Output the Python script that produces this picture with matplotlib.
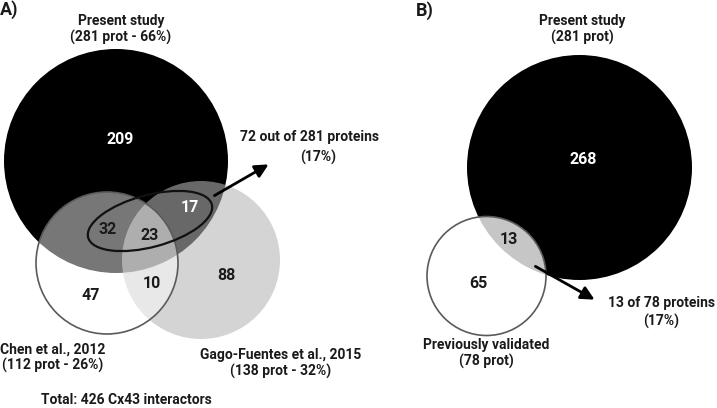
import matplotlib
matplotlib.use("Agg")
import matplotlib.pyplot as plt
from matplotlib.patches import Circle, Ellipse

# Panel A: Cx43 interactors, three studies
a_sets = ["Present study", "Chen et al., 2012", "Gago-Fuentes et al., 2015"]
a_totals = [281, 112, 138]
a_pcts = [66, 26, 32]
# region counts: only present, present&chen, all three, present&gago, chen&gago, only chen, only gago
a_regions = ["P", "PC", "PCG", "PG", "CG", "C", "G"]
a_counts = [209, 32, 23, 17, 10, 47, 88]
a_overlap = 72
a_overlap_pct = 17
a_total = 426

# Panel B: present study vs previously validated
b_sets = ["Present study", "Previously validated"]
b_totals = [281, 78]
b_counts = [268, 13, 65]  # only present, both, only validated
b_overlap_pct = 17

plt.rcParams['font.family'] = ['Roboto', 'DejaVu Sans']
FS = 10
NUM_FS = 11.5

fig = plt.figure(figsize=(7.17, 4.08), dpi=100)
ax = fig.add_axes([0, 0, 1, 1])
ax.set_xlim(0, 717)
ax.set_ylim(408, 0)
ax.axis('off')

def txt(x, y, s, color='#1a1a1a', ha='center', size=FS):
    ax.text(x, y, s, ha=ha, va='center', fontsize=size, fontweight='bold', color=color)

# ---- panel A ----
ax.add_patch(Circle((116, 161), 112, facecolor='black', edgecolor='none', zorder=1))
ax.add_patch(Circle((201, 260), 79, facecolor=(0.71, 0.71, 0.71), alpha=0.58,
                    edgecolor='none', zorder=2))
ax.add_patch(Circle((107, 263), 71, facecolor='white', alpha=0.47, edgecolor='none', zorder=3))
ax.add_patch(Circle((107, 263), 71, facecolor='none', edgecolor='#5a5a5a', lw=1.2, zorder=4))
ax.add_patch(Ellipse((150, 221), 128, 52, angle=-15, facecolor='none',
                     edgecolor='#111111', lw=1.6, zorder=5))
ax.annotate('', xy=(271, 163), xytext=(212, 197),
            arrowprops=dict(arrowstyle='-|>,head_length=0.8,head_width=0.4',
                            color='black', lw=2), zorder=6)

pos_a = {"P": (120, 140), "PC": (108, 229), "PCG": (150, 236), "PG": (190, 207),
         "CG": (152, 284), "C": (91, 295), "G": (226, 276)}
white_regions = {"P", "PG"}
for r, c in zip(a_regions, a_counts):
    x, y = pos_a[r]
    txt(x, y, str(c), color='white' if r in white_regions else '#1a1a1a', size=NUM_FS)

txt(121, 21, a_sets[0])
txt(121, 37, f"({a_totals[0]} prot - {a_pcts[0]}%)")
txt(0, 350, a_sets[1], ha='left')
txt(2, 365, f"({a_totals[1]} prot - {a_pcts[1]}%)", ha='left')
txt(281, 355, a_sets[2])
txt(281, 371, f"({a_totals[2]} prot - {a_pcts[2]}%)")
txt(310, 137, f"{a_overlap} out of {a_totals[0]} proteins")
txt(318, 157, f"({a_overlap_pct}%)")
txt(126, 400, f"Total: {a_total} Cx43 interactors")
txt(0, 10, "A)", ha='left', size=13)

# ---- panel B ----
ax.add_patch(Circle((579.5, 167.5), 112.5, facecolor='black', edgecolor='none', zorder=1))
ax.add_patch(Circle((486.5, 276), 59.5, facecolor='white', alpha=0.78,
                    edgecolor='none', zorder=2))
ax.add_patch(Circle((486.5, 276), 59.5, facecolor='none', edgecolor='#5a5a5a',
                    lw=1.2, zorder=3, clip_on=False))
ax.annotate('', xy=(597, 301), xytext=(533, 265),
            arrowprops=dict(arrowstyle='-|>,head_length=0.8,head_width=0.4',
                            color='black', lw=2), zorder=6)

txt(583, 160, str(b_counts[0]), color='white', size=NUM_FS)
txt(509, 239, str(b_counts[1]), size=NUM_FS)
txt(478, 283, str(b_counts[2]), size=NUM_FS)
txt(582, 21, b_sets[0])
txt(582, 37, f"({b_totals[0]} prot)")
txt(486, 345, b_sets[1])
txt(486, 361, f"({b_totals[1]} prot)")
txt(661, 303, f"{b_counts[1]} of {b_totals[1]} proteins")
txt(661, 321, f"({b_overlap_pct}%)")
txt(416, 11, "B)", ha='left', size=13)

fig.savefig("out.png", dpi=100)
